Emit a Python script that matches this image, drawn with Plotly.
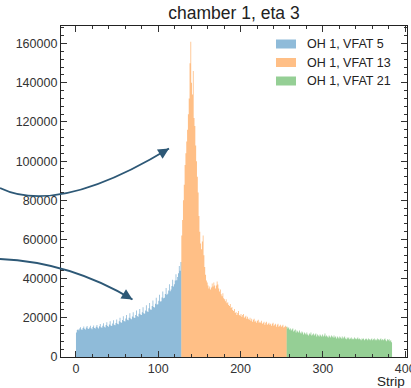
import plotly.graph_objects as go

# ---------------- data ----------------
vfat5_counts = [
    12500, 13800, 14200, 13600, 14500, 15200, 14100, 13900, 14800, 15600, 14400, 14000, 15100, 15800, 14600, 14300,
    15000, 15900, 14700, 14200, 15300, 16100, 14800, 14500, 15400, 16300, 15000, 14600, 15700, 16800, 15200, 14900,
    15900, 17200, 15500, 15100, 16300, 17800, 15800, 15400, 16600, 18200, 16100, 15800, 17100, 18700, 16500, 16200,
    17400, 19200, 17000, 16700, 18200, 20100, 17800, 17500, 18900, 20800, 18400, 18100, 19600, 21500, 19000, 18800,
    20100, 22300, 19600, 19300, 20700, 22900, 20200, 19900, 21400, 23700, 20900, 20600, 22100, 24500, 21700, 21400,
    22900, 25400, 22400, 22100, 23800, 26400, 23300, 23000, 24900, 27600, 24300, 24100, 26000, 28900, 25500, 25300,
    27200, 30300, 26800, 26900, 28700, 31800, 28300, 28500, 30400, 33400, 30000, 30300, 32200, 35200, 31800, 32300,
    34000, 37100, 33600, 34400, 36200, 39500, 36000, 37200, 39000, 42300, 39200, 40800, 42800, 46500, 44000, 48500,
]
vfat13_counts = [
    62000, 70000, 80000, 88000, 98000, 104000, 110000, 116000, 124000, 132000, 150000, 161000, 140000, 134000, 146000, 122000,
    118000, 108000, 100000, 92000, 84000, 72000, 64000, 58000, 55000, 59000, 62000, 52000, 46000, 42000, 39000, 38000,
    36500, 35000, 36000, 34500, 35500, 37500, 36000, 38000, 36500, 35000, 36500, 38500, 37000, 35000, 33500, 34500,
    32000, 31000, 32500, 30000, 29500, 28500, 29500, 27500, 28000, 26500, 26000, 27000, 25000, 25500, 24000, 23500,
    24500, 22500, 23000, 21500, 22500, 23500, 21500, 21000, 22000, 20500, 21500, 22000, 20000, 20500, 21000, 19500,
    20500, 19500, 19000, 20000, 18500, 19500, 18000, 19000, 19500, 18000, 18500, 17500, 18500, 19000, 17500, 18000,
    17500, 18500, 17000, 17500, 18000, 16500, 17500, 18000, 16500, 17000, 17500, 16500, 17000, 16000, 17000, 17500,
    16000, 16500, 17000, 15500, 16500, 17000, 15500, 16000, 16500, 15500, 16000, 16500, 15000, 15500, 16000, 15500,
]
vfat21_counts = [
    15500, 14500, 15000, 14000, 14500, 13500, 14000, 14500, 13000, 13500, 14000, 12500, 13500, 13000, 12500, 13500,
    12500, 12000, 13000, 12500, 11500, 12500, 12000, 11500, 12500, 11500, 11000, 12000, 11500, 12500, 11000, 11500,
    12000, 11000, 11500, 12000, 10500, 11500, 11000, 10500, 11500, 11000, 10500, 11500, 10500, 11000, 12000, 10500,
    11000, 10500, 10000, 11000, 10500, 10000, 11000, 10500, 10000, 11000, 10000, 10500, 9500, 10500, 10000, 9500,
    10500, 10000, 9500, 10500, 9500, 10000, 10500, 9500, 9000, 10000, 9500, 10000, 9000, 9500, 10000, 9000,
    9500, 9000, 10000, 9500, 9000, 9500, 10000, 9000, 9500, 9000, 8500, 9500, 9000, 9500, 8500, 9000,
    9500, 9000, 8500, 9500, 9000, 8500, 9000, 9500, 8500, 9000, 9500, 8500, 9000, 8500, 9500, 9000,
    8500, 9000, 9500, 8500, 9000, 8500, 9000, 9500, 8500, 8000, 9000, 8500, 9000, 8000, 8500, 7500,
]
series_names = ["OH 1, VFAT 5", "OH 1, VFAT 13", "OH 1, VFAT 21"]
series_first_strip = [0, 128, 256]
series_colors = ["rgba(31,119,180,0.5)", "rgba(255,127,14,0.5)", "rgba(44,160,44,0.5)"]
x_ticks = [0, 100, 200, 300, 400]
y_ticks = [0, 20000, 40000, 60000, 80000, 100000, 120000, 140000, 160000]

# ---------------- layout geometry ----------------
W, H = 411, 388
ML, MR, MT, MB = 61, 4, 26, 31
PW, PH = W - ML - MR, H - MT - MB


def px(xp):
    return (xp - ML) / PW


def py(yp):
    return (H - MB - yp) / PH


fig = go.Figure()
all_counts = [vfat5_counts, vfat13_counts, vfat21_counts]
for name, first, color, counts in zip(series_names, series_first_strip, series_colors, all_counts):
    # step-filled histogram: bin edges and counts
    edges = [first + i for i in range(len(counts) + 1)]
    fig.add_trace(go.Scatter(
        x=edges,
        y=list(counts) + [counts[-1]],
        mode="lines",
        line=dict(shape="hv", width=0, color=color),
        fill="tozeroy",
        fillcolor=color,
        name=name,
        showlegend=False,
        hoverinfo="skip",
    ))

# manual legend (wide patches like matplotlib)
shapes = []
annotations = []
leg_rows = [44, 62.5, 81]
for name, color, yr in zip(series_names, series_colors, leg_rows):
    shapes.append(dict(type="rect", xref="paper", yref="paper",
                       x0=px(276), x1=px(296), y0=py(yr + 4.5), y1=py(yr - 4.5),
                       fillcolor=color, line=dict(width=0)))
    annotations.append(dict(text=name, xref="paper", yref="paper", x=px(305), y=py(yr),
                            xanchor="left", yanchor="middle", showarrow=False,
                            font=dict(size=12.5, color="#222")))

# curved arrows (annotation decoration)
arrow_col = "#2d5876"


def qpath(p0, c, p2):
    return "M {},{} Q {},{} {},{}".format(px(p0[0]), py(p0[1]), px(c[0]), py(c[1]), px(p2[0]), py(p2[1]))


arrows = [((0, 188), (58, 216), (169, 148.5)), ((0, 259), (70, 262), (132.5, 299.5))]
for p0, c, p2 in arrows:
    shapes.append(dict(type="path", xref="paper", yref="paper", path=qpath(p0, c, p2),
                       line=dict(color=arrow_col, width=1.8)))
    dx, dy = p2[0] - c[0], p2[1] - c[1]
    n = (dx * dx + dy * dy) ** 0.5
    annotations.append(dict(text="", xref="paper", yref="paper", x=px(p2[0]), y=py(p2[1]),
                            ax=-dx / n * 12, ay=-dy / n * 12, showarrow=True,
                            arrowhead=2, arrowsize=1.2, arrowwidth=1.8, arrowcolor=arrow_col))

annotations.append(dict(text="Strip", xref="paper", yref="paper", x=1.0, y=py(381),
                        xanchor="right", yanchor="middle", showarrow=False,
                        font=dict(size=13.5, color="#222")))

axis_common = dict(showline=True, linecolor="#222", linewidth=1.2, mirror="allticks",
                   ticks="inside", ticklen=6, tickwidth=1, tickcolor="#333",
                   showgrid=False, zeroline=False, ticklabeloverflow="allow", automargin=False,
                   tickfont=dict(size=12.5, color="#333"))

fig.update_layout(
    width=W, height=H,
    margin=dict(l=ML, r=MR, t=MT, b=MB, autoexpand=False),
    paper_bgcolor="white", plot_bgcolor="white",
    font=dict(family="Liberation Sans, Arial, sans-serif", color="#222"),
    title=dict(text="chamber 1, eta 3", x=px(234), xanchor="center", y=1 - 13 / H, yanchor="middle",
               xref="paper", font=dict(size=17.5, color="#222")),
    xaxis=dict(range=[-18.2, 402.2], tickvals=x_ticks, ticktext=[str(v) for v in x_ticks],
               minor=dict(dtick=20, ticks="inside", ticklen=3, tickcolor="#333"),
               **axis_common),
    yaxis=dict(range=[0, 169000], tickvals=y_ticks, ticktext=[str(v) for v in y_ticks],
               minor=dict(dtick=4000, ticks="inside", ticklen=3, tickcolor="#333"),
               **axis_common),
    shapes=shapes,
    annotations=annotations,
)

fig.write_html("out.html", config={"displayModeBar": False},
               post_script="document.body.style.margin='0';document.body.style.overflow='hidden';")
